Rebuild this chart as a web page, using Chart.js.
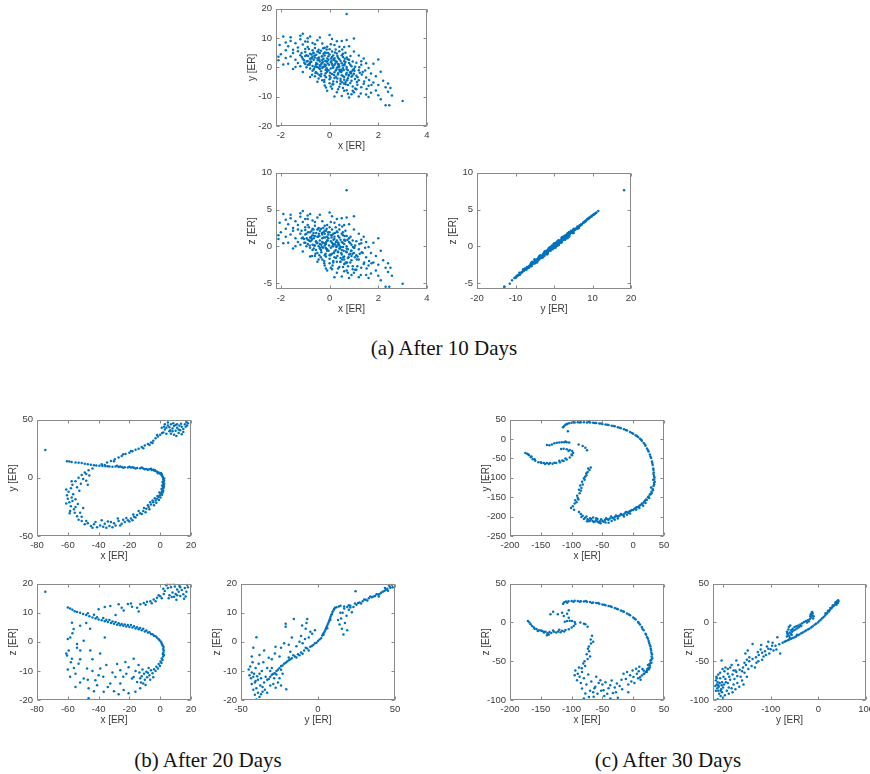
<!DOCTYPE html>
<html>
<head>
<meta charset="utf-8">
<script src="https://cdn.jsdelivr.net/npm/chart.js@4.4.0/dist/chart.umd.min.js"></script>
<style>
  body { margin: 0; width: 870px; height: 774px; overflow: hidden; background: #fff; position: relative; }
  canvas { position: absolute; }
  .caption {
    position: absolute;
    font-family: "Liberation Serif", "Times New Roman", serif;
    font-size: 21px;
    line-height: 24px;
    color: #111;
    white-space: nowrap;
    transform: translateX(-50%);
  }
</style>
</head>
<body>
<div class="caption" style="left:444px; top:336px;">(a) After 10 Days</div>
<div class="caption" style="left:208px; top:748px;">(b) After 20 Days</div>
<div class="caption" style="left:668px; top:748px;">(c) After 30 Days</div>

<script>
// ---- tick values ----
const ticksX10 = [-2, 0, 2, 4];
const ticksY10 = [-20, -10, 0, 10, 20];
const ticksZ10 = [-5, 0, 5, 10];
const ticksX20 = [-80, -60, -40, -20, 0, 20];
const ticksY20 = [-50, 0, 50];
const ticksZ20 = [-20, -10, 0, 10, 20];
const ticksX30 = [-200, -150, -100, -50, 0, 50];
const ticksY30 = [-250, -200, -150, -100, -50, 0, 50];
const ticksYZ30 = [-200, -100, 0, 100];
const ticksZ30 = [-100, -50, 0, 50];

// ---- after 10 days: particle positions [ER] ----
const day10X = [
  0.1,-0.3,0.4,-0.6,0.7,-0.2,0.2,-0.8,0.9,-0.5,
  0.3,-0.1,0.6,-0.9,0.0,0.5,-0.4,0.8,-0.7,0.2,
  -0.2,0.4,-0.6,1.0,-1.0,0.1,-0.3,0.7,-0.5,0.3,
  -0.8,0.6,-0.1,0.9,-0.4,0.2,-0.7,0.5,-0.2,0.0,
  -0.9,0.8,-0.6,0.3,-0.3,0.1,0.6,-0.5,0.4,-0.1,
  0.7,-0.8,0.2,-0.4,0.9,-0.2,0.5,-0.7,0.0,-1.0,
  0.3,-0.6,0.8,-0.3,0.1,1.0,-0.9,0.6,-0.2,0.4,
  -0.5,0.2,-0.8,0.7,-0.1,0.5,-0.4,0.0,0.9,-0.7,
  -1.2,-1.5,-1.1,-1.8,-1.3,-2.0,-1.6,-1.9,-1.1,-1.4,
  -1.7,-2.2,-1.2,-1.5,-1.0,-1.3,-2.05,-1.6,-1.8,-1.1,
  -1.4,-1.2,-1.7,-2.1,-1.5,-1.0,-1.3,-1.9,-1.6,-1.2,
  -1.0,-1.4,-1.1,-1.8,-2.1,-0.8,-0.5,0.0,-0.3,0.2,
  -0.9,0.5,0.7,1.0,-0.1,0.3,-0.6,0.6,-0.4,0.1,
  0.8,-0.7,-0.2,0.4,-0.9,1.2,1.5,1.1,1.8,1.3,
  2.0,1.6,2.2,1.4,1.9,1.2,2.4,1.7,2.5,1.5,
  2.0,1.1,2.3,2.45,3.0,1.6,2.56,1.3,1.8,2.1,
  1.0,1.2,1.4,1.9,2.3,1.1,1.6,1.0,2.1,1.7,
  1.3,2.4,1.5,2.0,1.2,-0.5,-0.2,0.1,0.3,0.5,
  0.8,0.0,0.4,0.7,-0.3,0.9,0.2,0.6,-0.8,0.95,
  0.6,-0.1,0.7,0.15,-0.25,0.35,-0.55,0.55,-0.15,0.05,
  -0.75,0.75,-0.45,0.25,0.45,-0.65,-0.35,0.85,-0.95,0.65,
  -0.05,0.15,-0.85,1.05,-1.05,0.35,-0.15,0.55,-0.45,0.25,
  -0.25,0.95,-0.65,0.05,0.45,-0.35,0.75,-0.05,0.15,-0.75,
  1.15,-1.15,0.65,-0.55,0.35,-0.95,0.85,-0.15,0.05,0.55,
  0.12,-0.32,0.48,-0.18,0.28,-0.62,0.68,-0.08,0.38,-0.42,
  0.58,-0.52,0.18,-0.28,0.78,-0.72,0.08,-0.12,0.42,-0.88,
  0.32,-0.38,0.62,-0.58,0.02,0.88,-0.78,0.22,-0.22,0.52,
  -0.48,0.72,-0.02,0.36,-0.66,0.14,-0.34,0.94,-0.84,0.46,
  -0.14,0.26,-0.56,0.66,-0.26,0.06,1.04,-1.04,0.54,-0.44,
  0.84,-0.64,0.34,-0.04,0.74,-0.94,0.24,-0.34,1.24,-0.74,
  0.16,-0.46,0.56,-0.16,0.96,-0.56,0.36,-0.06,0.66,-0.26,
  1.14,-1.14,0.44,-0.36,0.04,0.76,-0.66,0.26,-0.16,0.86,
  -0.82,0.12,-0.42,0.62,-0.12,0.32,-0.72,1.02,-0.22,0.52,
  1.32,1.42,1.22,1.62,1.12,1.52,1.36,1.72,1.28,1.46,
  0.05,0.35,-0.45,0.75,0.55,0.15,1.05,0.95,-0.15,0.45
];
const day10Y = [
  1.2,2.5,-0.8,3.4,-1.9,0.3,3.1,4.6,-3.2,1.1,
  1.9,-1.5,0.7,2.2,4.4,-2.7,-0.6,1.5,5.8,-3.6,
  5.1,2.8,0.2,-0.5,3.9,-2.3,3.8,3.4,-2.1,-0.1,
  1.6,-4.2,2.0,0.4,4.9,0.8,-1.2,4.1,-2.8,6.2,
  0.8,-2.5,6.6,-4.9,1.5,5.4,2.1,3.0,0.3,-0.9,
  -0.6,2.9,2.4,0.7,-1.4,4.0,-1.2,3.6,-4.1,5.2,
  4.7,-3.0,2.6,-0.2,3.5,-2.2,6.9,-3.3,1.0,5.5,
  5.4,-1.7,-0.4,0.1,3.0,1.4,2.0,-2.9,-4.6,0.5,
  4.1,6.0,7.8,3.2,1.5,4.5,9.0,10.5,11.5,2.6,
  1.2,1.5,9.6,4.9,8.8,6.8,7.6,10.3,5.8,2.9,
  8.2,0.4,7.2,3.6,-0.6,6.3,5.5,1.0,3.7,10.8,
  1.1,0.1,-1.6,8.5,2.4,10.5,9.2,11.0,8.1,7.6,
  8.7,9.0,9.3,9.8,7.0,8.9,7.9,6.9,10.2,9.7,
  7.2,8.3,6.7,7.0,9.9,-1.0,-3.5,1.6,-5.2,-6.8,
  2.7,-0.2,-4.6,3.0,-7.9,-4.4,-5.5,-2.1,-7.0,-9.3,
  -9.5,-7.5,-12.9,-12.9,-11.5,-10.1,-9.6,0.9,1.2,-1.5,
  5.4,4.0,-5.6,-3.0,-6.8,-2.9,-6.3,-8.5,-10.9,-8.7,
  2.1,-8.3,1.4,-6.0,-9.9,-4.9,-6.2,-7.3,-8.5,-9.8,
  -10.3,-5.4,-6.6,-7.8,-4.4,-9.2,-9.9,-5.6,-3.3,-6.5,
  -8.0,-8.0,18.2,0.0,2.9,-2.0,4.3,3.5,-3.4,1.7,
  1.9,-1.0,6.0,6.1,-3.9,2.6,-1.3,0.9,4.1,5.0,
  2.6,4.0,6.3,0.2,2.4,1.1,0.6,-0.3,-0.1,-1.1,
  4.6,2.0,-0.7,-0.4,2.2,5.7,-3.7,3.8,-4.8,3.2,
  -3.4,4.9,1.8,1.5,3.3,0.0,-5.3,5.0,7.9,4.6,
  0.6,3.7,-1.6,2.2,-0.7,4.0,-2.4,1.3,1.0,2.7,
  -0.9,0.1,-2.6,1.8,-2.9,3.0,2.2,-0.3,-1.4,3.9,
  3.9,0.4,2.9,-1.9,-1.8,-2.0,2.0,5.1,-4.3,-5.1,
  2.4,-4.4,0.9,0.5,4.9,-0.1,1.1,-2.8,1.2,-0.8,
  2.1,-3.2,0.9,-5.8,6.5,3.0,-4.0,1.6,0.6,3.4,
  -1.7,-0.5,-2.4,-1.0,2.8,2.0,1.3,-2.3,-1.8,4.4,
  2.7,5.2,-3.0,-2.0,-0.9,-1.6,0.0,4.9,-5.0,0.2,
  -5.9,3.5,-5.6,-3.0,-3.5,-6.0,5.0,2.0,-0.9,3.9,
  0.9,-5.8,-2.6,1.1,6.1,-3.8,-2.5,-1.2,-5.0,6.1,
  -2.4,-4.8,0.0,-4.3,-5.0,-7.4,-1.6,-6.0,-8.9,-1.1,
  -6.5,-7.5,-3.8,-9.0,-7.0,-5.8,-7.2,-8.0,-6.9,-4.6
];
const day10Z = [
  0.5,1.1,-0.3,1.4,-0.8,0.1,1.3,1.9,-1.3,0.5,
  0.8,-0.6,0.3,0.9,1.9,-1.1,-0.3,0.6,2.4,-1.5,
  2.1,1.2,0.1,-0.2,1.6,-1.0,1.6,1.4,-0.9,0.0,
  0.7,-1.8,0.8,0.2,2.1,0.3,-0.5,1.7,-1.2,2.6,
  0.3,-1.1,2.8,-2.1,0.6,2.3,0.9,1.3,0.1,-0.4,
  -0.3,1.2,1.0,0.3,-0.6,1.7,-0.5,1.5,-1.7,2.2,
  2.0,-1.3,1.1,-0.1,1.5,-0.9,2.9,-1.4,0.4,2.3,
  2.3,-0.7,-0.2,0.0,1.3,0.6,0.8,-1.2,-1.9,0.2,
  1.7,2.5,3.3,1.3,0.6,1.9,3.8,4.4,4.8,1.1,
  0.5,0.6,4.0,2.1,3.7,2.9,3.2,4.3,2.4,1.2,
  3.4,0.2,3.0,1.5,-0.3,2.6,2.3,0.4,1.6,4.5,
  0.5,0.0,-0.7,3.6,1.0,4.4,3.9,4.6,3.4,3.2,
  3.7,3.8,3.9,4.1,2.9,3.7,3.3,2.9,4.3,4.1,
  3.0,3.5,2.8,2.9,4.2,-0.4,-1.5,0.7,-2.2,-2.9,
  1.1,-0.1,-1.9,1.3,-3.3,-1.8,-2.3,-0.9,-2.9,-3.9,
  -4.0,-3.2,-5.5,-5.5,-5.1,-4.3,-4.0,0.4,0.5,-0.6,
  2.3,1.7,-2.4,-1.3,-2.9,-1.2,-2.6,-3.6,-4.6,-3.7,
  0.9,-3.5,0.6,-2.5,-4.2,-2.1,-2.6,-3.1,-3.6,-4.1,
  -4.3,-2.3,-2.8,-3.3,-1.8,-3.9,-4.2,-2.4,-1.4,-2.7,
  -3.4,-3.3,7.6,0.0,1.2,-0.8,1.8,1.5,-1.4,0.7,
  0.8,-0.4,2.5,2.6,-1.6,1.1,-0.5,0.4,1.7,2.1,
  1.1,1.7,2.6,0.1,1.0,0.5,0.3,-0.1,0.0,-0.5,
  1.9,0.8,-0.3,-0.2,0.9,2.4,-1.6,1.6,-2.0,1.3,
  -1.4,2.1,0.8,0.6,1.4,0.0,-2.2,2.1,3.3,1.9,
  0.0,1.8,-0.9,1.2,-0.1,1.4,-0.7,0.8,0.2,1.4,
  -0.6,0.4,-0.9,0.5,-1.5,1.0,1.2,-0.4,-0.3,1.9,
  1.9,-0.2,1.4,-1.0,-1.1,-0.6,1.2,1.8,-2.0,-1.8,
  1.3,-2.2,0.1,0.5,1.8,0.3,0.2,-1.0,0.8,-0.1,
  0.6,-1.6,0.7,-2.2,2.5,1.5,-1.5,0.5,0.5,1.7,
  -1.0,0.1,-0.7,-0.6,0.9,1.1,0.2,-0.8,-1.0,2.1,
  0.9,2.4,-1.5,-1.0,-0.1,-0.5,0.3,1.9,-2.3,-0.2,
  -2.7,1.1,-2.1,-1.5,-1.2,-2.7,2.3,0.6,-0.2,1.3,
  0.1,-2.6,-1.2,0.8,2.4,-1.3,-1.3,-0.2,-2.3,2.7,
  -0.8,-2.2,0.3,-2.0,-1.8,-3.0,-0.9,-2.3,-3.9,-0.2,
  -2.9,-3.0,-1.8,-3.6,-2.8,-2.2,-3.2,-3.1,-3.0,-2.1
];

// ---- after 20 days: projected positions [ER] ----
const xyDay20 = [
  [-74.6,23.9],
  [-60.5,14.2],[-59,14.0],[-57.5,13.6],[-55,13.3],[-53,13.0],[-51,12.7],[-49,12.2],[-47,11.6],[-45,11.3],[-43,10.9],
  [-41.5,10.6],[-39.5,10.3],[-37.5,10.1],[-35.5,10.0],[-34,9.9],
  [-33,9.8],[-31,9.6],[-29,9.7],[-27,9.4],[-25,9.3],[-23,9.1],[-21,9.0],[-19,8.8],[-17,8.7],[-15,8.5],
  [-13,8.2],[-11,8.0],[-9,7.7],[-7,7.3],[-5.5,6.8],[-4,6.3],[-3,5.8],[-2,5.2],[-1,4.5],[0,3.6],
  [0.8,2.6],[1.4,1.4],[1.8,0],[2.0,-1.5],[2.1,-3],[2.0,-4.5],[1.9,-6],[1.8,-7.5],[1.7,-9],[1.4,-10.5],
  [1.0,-12],[0.5,-13.5],[-0.2,-15],[-1,-16.5],[-2,-18],[-3,-19.5],[-4.5,-21],[-6,-23],[-7.5,-25],[-9,-26.5],
  [-11,-28.5],[-13,-30.5],[-15,-32],[-17,-33.5],[-19,-35],[-21,-36.5],[-23,-38],[-25,-39.5],
  [-28,10.3],[-24,8.6],[-20,9.5],[-16,8.0],[-12,8.9],[-8,7.0],[-6,7.9],[-3.5,6.8],[-1.5,4.0],[0.5,4.1],
  [1.2,2.0],[2.6,-0.5],[2.5,-2.5],[1.5,-3.5],[2.6,-5],[1.3,-6.5],[2.3,-8.2],[0.9,-9.5],[2.0,-11],[-0.5,-12.5],
  [1.2,-14.5],[-1.8,-15.5],[-0.8,-19],[-3.5,-17.5],[-5,-19.5],[-4,-23.5],[-8,-23.5],[-7,-27],[-10.5,-26],[-12,-31],
  [-14,-28.5],[-16,-34],[-17.5,-31.5],[-20,-37.5],[-22,-34.5],[-24,-36],[-26,-41],[-27,-37],[1.6,-12.5],[-2.5,-21.5],
  [-9.5,-29.5],[2.4,-7],[0.2,-17],[-6.5,-21],[-18,-36.5],[-26,9.8],[-18,9.2],[-10,7.4],[-4.5,7.0],[1.0,3.2],
  [-29,-41],[-31,-42.5],[-33,-41.5],[-35,-43],[-37,-42],[-39,-41],[-41,-42.5],[-43,-40],[-45,-41.5],[-47,-39],
  [-49,-40],[-51,-37],[-53,-36],[-30,-39],[-36,-39.5],[-42,-38],[-48,-37],[-38,-36.5],[-44,-42.8],[-32,-38],
  [-27.5,-35],[-34,-37.5],
  [-54,-33],[-55.5,-30],[-56,-27],[-58,-24.5],[-59,-21],[-60,-18],[-60.5,-15],[-59.5,-12],[-58,-9],[-57,-6],
  [-55,-3],[-53,0],[-51,2.5],[-49,4.5],[-46.5,6.5],[-44,8],[-57,-20],[-55,-25],[-52,-30],[-61,-22],
  [-56.5,-14],[-54,-8],[-51.5,-5],[-50,-1],[-52.5,-11],[-57.5,-17],[-53.5,-22.5],[-58.5,-28.5],[-55,-18.5],[-50,-26],
  [-51,-33.5],[-61,-10],[-57.5,-3],[-48,-2.5],[-46,2],[-58.8,-30.5],[-47,-6],[-48,3.3],
  [-38,11.8],[-34.5,13.2],[-32,14.5],[-29.5,16],[-27,17.5],[-25,18.8],[-22.5,20.5],[-20,21.5],[-18,22.8],[-16,24.2],
  [-14,25],[-12,26.5],[-10,27.8],[-8,29],[-6,30.5],[-4.5,32],[-3,34],[-1.5,35.5],[0,37],[1.2,38.5],
  [-24,20.2],[-11,25.5],[-5,30],[-36,11.0],[-30,14.2],[-19,23],[-2,36.8],[-7,28.2],
  [2,39],[3,41.5],[4,43],[5,45],[6,40],[7,38],[8,42.5],[9,44.5],[10,40.5],[11,43],
  [12,38.5],[13,41],[14,44],[15,42],[16,46],[17,48],[18,47],[3,46],[5,47.5],[7,46],
  [9,37],[10.5,36],[12.5,44.8],[15,39.5],[16.5,44],[1,43],[6,43.5],[8,40],[11,46],[13.5,46.5],
  [4,38],[14,37.5],[17.5,45],[2.5,44],[8.5,47],[12,41.5],[6.5,41],[10,45.5]
];

const xzDay20 = [
  [-74.6,17.2],
  [-60,11.8],[-58.5,11.5],[-57,11.0],[-55.5,10.5],[-54,10.3],[-52,10.0],[-50,9.6],[-48,9.2],[-46,8.8],[-44,8.4],
  [-42,8.0],[-40,7.7],[-38,7.4],[-36,7.1],[-34,6.8],[-32,6.5],[-30,6.2],[-28,5.9],[-26,5.7],[-24,5.5],
  [-22,5.3],[-20,5.1],[-18,4.9],[-16,4.6],[-14,4.3],[-12,4.0],[-10,3.6],[-8,3.2],[-6,2.7],[-4,2.1],
  [-2,1.4],[-0.5,0.6],[0.8,-0.3],[1.6,-1.3],[2.0,-2.5],[2.1,-3.7],[1.9,-5],[1.5,-6.2],[0.8,-7.3],[-0.2,-8.3],
  [-1.5,-9.2],[-3,-10],[-5,-10.8],[-7,-11.5],[-8.5,-12.2],[-10,-13],[-11,-14.3],
  [-41,8.5],[-35,7.6],[-29,6.8],[-25,6.1],[-21,5.8],[-17,5.4],[-13,4.8],[-9,3.9],[-7,3.3],[-5,2.6],
  [-3,1.9],[-1,0.9],[0.3,0.1],[1.2,-0.8],[2.2,-1.8],[2.3,-3],[1.7,-4.2],[2.4,-4.5],[1.0,-5.7],[0.2,-6.8],
  [-1,-7.6],[-2.5,-8.6],[-4,-9.4],[-6,-9.8],[-7.5,-9.0],[-9,-10.3],[-10.5,-11],[-8,-10.6],[-12,-11.8],[-13,-12.5],
  [-11.5,-9.5],[-12.5,-14],[-9.5,-14.8],[-6.5,-13],[-4.5,-12.2],[-13.5,-10.5],[-43,9.3],[-37,8.2],[-31,7.0],[-27,6.4],
  [-23,6.0],[-19,5.8],[-15,5.0],[-11,4.5],[-33,7.5],[-47,9.8],
  [-32.4,12.3],[-27,12.9],[-23.7,10.8],[-21,13],[-18.3,12.1],[-15,11.7],[-12.9,12.9],[-10.7,13.4],[-8.6,13.8],[-6.4,14.0],
  [-4.2,14.6],[-2.1,15.2],[0,15.7],[2.3,16.5],[-9.5,12.8],[-5.5,13.3],[-3,14.0],[-1,16.0],[1,15.0],[-14,10.4],
  [-25,11.7],[-29,9.2],[-19,13.2],[-36,12.0],[-40,11.2],
  [3,17.5],[4,19.5],[5,18.5],[6,16],[7,18.8],[8,17],[9,15.5],[10,16.5],[11,18],[12,17.2],
  [13,15.8],[14,17.8],[15,16.4],[16,18.5],[17,17.2],[18,18.8],[4.5,20],[6.5,19.8],[9.5,19],[12.5,19.2],
  [15.5,14.8],[10.5,14.5],[8.5,20],[5.5,15],[13,18.8],[7.5,15.4],[16.5,15.6],[2,18.3],[11,16],[17.5,19.6],
  [-57.3,6.6],[-56.2,4.4],[-58.4,1.5],[-59.4,-3],[-60.5,-4.7],[-57.3,-5.8],[-54,-0.7],[-51.9,-3],[-49.7,0.4],[-45.4,-3],
  [-47.5,-9.2],[-49.7,-12.6],[-46.5,-16],[-46.5,-19.4],[-42.1,-13.2],[-40,-11.5],[-38.9,-9.2],[-41,-14.9],[-36.7,-17.2],[-33.5,-20],
  [-32.4,-14.3],[-29.1,-12.1],[-28,-7.6],[-25.9,-9.8],[-22.6,-6.9],[-20.5,-8.7],[-18.3,-12.6],[-17.2,-5.8],[-23.7,-16.6],[-20.5,-17.7],
  [-16.1,-17.2],[-17.2,-12.1],[-15,-13.8],[-25.9,-14.3],
  [-55,-11],[-53,-7.5],[-56,-9],[-58,-7],[-52,-14],[-55,-15.5],[-58.5,-12],[-54,-2],[-60,1],[-57,3],
  [-52,5.5],[-48,6.5],[-44,-6],[-37,-12],[-35,-8],[-30,-17],[-27,-18],[-31,-10.5],[-24,-12],[-14,-8],
  [-13,-16],[-16,-10],[-22,-11],[-34,-15.5],[-44,-10],[-39,-4],[-47,-13],[-43,-17],[-36,1.5],[-52,-6],
  [-61,-4],[-60,-9.5],[-45.5,4.5]
];

const yzDay20 = [
  [14.6,12.4],[17,12.2],[19,12.0],[21,11.8],[23,12.0],[25,12.8],[27,13.5],[29,14.0],[31,14.5],[33,15.0],
  [35,15.3],[37,15.8],[39,16.3],[41,16.9],[43,17.5],[45,18.3],[46.5,19.0],[48,19.6],[28,13.2],[32,14.2],
  [36,15.6],[40,16.5],[44,17.8],[47,18.6],[42,17.2],[38,16.4],[34,15.6],[30,14.6],[26,13.4],[46,19.6],
  [48.5,18.8],[24,13.2],[20,12.6],[45.5,17.6],[39.5,15.6],[43.5,18.5],
  [-5,-1.7],[-3,-1.1],[-1,-0.3],[1,0.8],[2.7,2.2],[4,3.3],[5,4.4],[6,5.6],[7,6.8],[7.8,8],
  [8.6,9.2],[9.4,10.3],[10.5,11.3],[12,11.9],[13.5,12.2],[3.3,2.8],[5.5,5],[6.5,6.2],[8.2,8.6],[9,9.6],
  [0,0.3],[-2,-0.5],[2,1.2],[4.6,3.8],[7.4,7.4],[11,11.7],[10,10.8],[-4,-1.4],[3.6,2.4],[6,4.7],[8,7.5],
  [-7,-2.3],[-9,-3],[-11,-3.7],[-13,-4.3],[-15,-5],[-17,-5.6],[-19,-6.3],[-21,-7.2],[-23,-8.1],[-25,-9],
  [-27,-10],[-29,-11],[-31,-12],[-33,-13],[-8,-2.0],[-12,-4.6],[-16,-4.6],[-20,-6.8],[-24,-8.3],[-28,-10.8],
  [-10,-4.1],[-14,-5.4],[-18,-6.0],[-22,-7.5],[-26,-9.6],[-30,-11.3],[-6,-3],[-19,-5.4],[-24,-9.6],[-32,-12.8],
  [-44,-8.5],[-43,-10.5],[-42,-12],[-41,-14],[-40,-16],[-39,-17.5],[-38,-19],[-41.5,-11],[-43.5,-12.5],[-40.5,-9],
  [-39,-13],[-37.5,-15],[-36,-17.2],[-35,-14],[-38,-11],[-36.5,-10],[-34,-12],[-33,-9],[-42,-16.5],[-40,-19.8],
  [-37,-18],[-44.5,-11.5],[-42.5,-7],[-38.5,-7.5],[-35.5,-7],[-34.5,-16.5],[-31,-15],[-33,-17.5],[-43,-14.5],[-39.5,-11.8],
  [-41,-18.2],[-37,-12.5],[-45,-9.5],[-40.5,-13.5],[-36,-15.5],
  [-30,-9],[-28.5,-12.5],[-27,-11.2],[-26,-14],[-29,-14.5],[-31,-10],[-25,-12.5],[-23,-11],[-27.5,-15.8],[-24,-15],
  [-40,1.6],[-42,-2],[-43,-5],[-38,-4.5],[-35,-3],[-32,-5.5],[-30,-6],[-27.6,-1.7],[-24,-2],[-22,-0.5],
  [-28,-4],[-25,-5],[-21,6.2],[-21,5.2],[-15.7,7.9],[-17,1.5],[-19,-1],[-14,-1.5],[-12,0],[-10,-0.5],
  [-10.3,5.6],[-8,4.5],[-7,7.9],[-7.5,6.5],[-5,3.5],[-3.8,2.8],[-2,4],[-8.5,1],[-18,-3.4],[-11,2],
  [-6,1.5],[-20.6,-16.3],
  [14,6],[15,8],[16,10],[17,11.5],[15.5,4.5],[17.5,6.5],[18.5,9],[20,11],[21,12.4],[13,7.5],
  [16.5,2.5],[19,4],[22,10.2],[14.5,10],[24.4,17.4]
];

// ---- after 30 days: projected positions [ER] ----
const xyDay30 = [
  [-114,30.5],[-112,34],[-110,37],[-107,39.5],[-104,41],[-100,42],[-95,42.8],[-90,43.2],[-85,43.4],[-80,43.3],
  [-75,43],[-70,42.6],[-65,42],[-60,41.3],[-55,40.3],[-50,39.2],[-45,37.8],[-40,36.4],[-35,34.7],[-30,32.8],
  [-25,30.5],[-20,28],[-15,25.2],[-10,22],[-5,18.3],[0,14],[4,10],[8,5.4],[11,1],[14,-4],
  [17,-10],[20,-17],[22.5,-24],[25,-32],[27,-40],[29,-49],[30.5,-58],[31.5,-67],[32.5,-76],[33.2,-86],
  [33.8,-95],[34,-104],[33.8,-113],[33,-121],[31.5,-129],[29.5,-136],[27,-143],[24,-150],[21,-156],[17.5,-162],
  [14,-167],[10,-172],[6,-176],[2,-180],[-2,-183],[-6,-186],[-10,-189],[-14,-192],[-18,-195],[-22,-197],
  [-26,-199],[-30,-201],[-34,-203],[-38,-205],[-42,-207],[-46,-209],[-50,-211],[-54,-212],[-58,-212.5],[-62,-212.5],
  [-66,-211.5],[-70,-210],[-74,-207],[-78,-203],[-82,-198],[-85,-193],[-88,-188],
  [-108,38],[-97,43.5],[-87,42.5],[-72,43.8],[-62,41.5],[-52,40],[-42,37],[-32,33.5],[-22,29.5],[-12,23.5],
  [-2,16],[6,8],[13,-2],[19,-14],[24,-29],[28,-45],[31,-62],[33,-80],[34.5,-99],[34,-117],
  [32,-132],[28,-142],[25,-148],[22,-157],[19,-159],[15,-166],[12,-170],[8,-175],[4,-177],[0,-183],
  [-4,-185],[-8,-190],[-12,-188],[-16,-196],[-20,-193],[-24,-200],[-28,-197],[-32,-205],[-36,-200],[-40,-208],
  [-44,-204],[-48,-213],[-52,-207],[-56,-215],[-60,-209],[-64,-214],[-68,-206],[-72,-212],[-76,-200],[-80,-206],
  [-84,-201],[-70,-204],[-60,-204],[30,-140],[26,-152],[33,-90],[32.5,-105],[35,-110],[29,-125],[20,-165],
  [10,-178],[-5,-192],[-45,-215],[-58,-206],[-35,-211],[-25,-205],[-15,-200],[-65,-202],[-75,-212],[-53,-217],
  [-40,-216],[-30,-208],[-10,-195],[5,-182],[16,-172],
  [-98,-173],[-95,-166],[-94,-158],[-90,-152],[-91,-146],[-87,-140],[-88,-131],[-84,-126],[-82,-117],[-83,-110],
  [-79,-105],[-78,-97],[-76,-93],[-74,-85],[-71,-80],[-69,-73],[-73,-76],[-80,-101],[-86,-120],[-92,-163],
  [-101,-178],[-96,-182],[-89,-156],[-76,-88],[-85,-133],
  [-175,-36],[-172,-38],[-169,-42],[-166,-47],[-163,-52],[-159,-56],[-154,-60],[-149,-62],[-143,-64],[-137,-64.5],
  [-131,-63.5],[-125,-62],[-119,-59.5],[-113,-56.5],[-108,-52.5],[-103,-47.5],[-99.5,-42],[-97.5,-36],[-99,-31],[-103,-28],
  [-108,-26],[-113,-25],[-117,-25.5],[-160,-52],[-150,-60],[-140,-62],[-128,-61],[-120,-56],[-110,-50],[-100,-40],
  [-105,-31],[-170,-40],[-145,-62],[-135,-62],[-115,-55],[-165,-45],
  [-136,-16],[-132,-14],[-128,-11],[-124,-9.5],[-120,-8.5],[-116,-8],[-112,-8],[-108,-8],[-104,-9],[-140,-15],[-110,-6],
  [-106,20],[-88.6,-13.7],[-82,-18],[-77.7,-22.2],[-75,-29]
];

const xzDay30 = [
  [-113.8,24.1],[-112,26],[-109,27],[-105,27.5],[-100,27.8],[-95,27.9],[-90,27.8],[-85,27.5],[-80,27.2],[-75,26.8],
  [-70,26.3],[-65,25.7],[-60,25],[-55,24.2],[-50,23.3],[-45,22.3],[-40,21.2],[-35,20],[-30,18.6],[-25,17.1],
  [-20,15.5],[-15,13.7],[-10,11.6],[-5,9.2],[0,6.5],[4,3.8],[8,0.5],[11,-2.5],[14,-6],[17,-10],
  [20,-14.5],[22.5,-19],[25,-24],[27,-29],[28.5,-34],[29.5,-39],[30,-44],[29.5,-48],[28.5,-52],[27,-55.5],
  [25,-58.5],[22.5,-61.5],[20,-64],[17,-66.5],[14,-68.5],[11,-70.5],
  [-107,25.5],[-97,26.8],[-87,26.6],[-77,27.6],[-67,25],[-57,25],[-47,22.9],[-37,21],[-27,17.8],[-17,14.6],
  [-7,10.2],[2,5.2],[9,-0.8],[15,-8],[21,-16],[24,-21],[26,-26.5],[28,-31],[29,-36],[30.5,-41],
  [31,-46],[29.5,-52],[27,-58],[23,-60],[24,-55],[26.5,-53.5],[28,-49],[25.5,-60.5],[22,-64],[18,-66],
  [-170.9,2],[-168.5,0],[-166.6,-2.3],[-164,-4.5],[-161.2,-6.5],[-157,-8.5],[-153.1,-9.9],[-148,-11],[-142.3,-12],[-136,-12.3],
  [-128.9,-12],[-122,-11.5],[-115.4,-10.8],[-110,-9.8],[-104.6,-8.6],[-100,-6.5],[-96.6,-4.4],[-94,-2],[-95,0.5],[-99.2,2],
  [-103,2.3],[-107.3,2],[-111,1],[-150,-10.5],[-145,-13],[-139,-14],[-133,-13.5],[-125,-13],[-118,-12.5],[-137,-15.5],
  [-140,-16.5],[-130,-10.5],[-160,-8],[-155,-11],[-145,-12],[-120,-9.5],[-112,-11.5],
  [-134.3,10.5],[-130,13.9],[-122.4,10.5],[-115.4,12.6],[-112.7,8.4],[-107.3,11.3],[-104.6,6.2],[-104.6,15.6],
  [-85.8,-0.1],[-80,-1.5],[-77.7,-2.3],[-74,-5.5],
  [-66.9,-17.1],[-69,-22],[-68.5,-27],[-72,-31],[-71.5,-37],[-75.5,-41],[-74,-47],[-79,-50],[-78,-56],[-83.5,-59],
  [-65,-25],[-73.5,-34],[-70,-44],[-81,-53],
  [-93.9,-61.8],[-91.2,-74.5],[-83.1,-85.1],[-77.7,-91.5],[-64.2,-95.8],[-61.5,-83],[-53.4,-74.5],[-48.1,-87.3],[-37.3,-80.9],[-33,-91],
  [-26.5,-78.8],[-19,-74],[-15.7,-66],[-8,-80],[0.4,-70.3],[4.7,-59.6],[8,-72],[-90,-66],[-87,-70],[-85,-78],
  [-80,-72],[-76,-80],[-73,-67],[-70,-88],[-68,-76],[-65,-90],[-58,-92],[-56,-78],[-52,-88],[-45,-77],
  [-42,-92],[-40,-85],[-35,-75],[-30,-84],[-28,-90],[-22,-82],[-18,-86],[-12,-73],[-10,-64],[-5,-68],
  [-3,-76],[-1,-62],[2,-78],[6,-66],[9,-63],[12,-74],[15,-60],[-88,-58],[-83,-64],[-95,-68],
  [-60,-70],[-72,-96],[-80,-98],[-47,-95],[-37,-98],[-25,-97],[-63,-85],[-50,-80],[10,-57],[17,-62],[-8,-90]
];

const yzDay30 = [
  [-75,-26],[-68,-24],[-61,-22],[-54,-20],[-47,-18],[-40,-15.5],[-33,-13],[-26,-10.5],[-19,-8],[-12,-5],
  [-5,-1.5],[2,2],[8,5.5],[14,9],[19,12.5],[24,16],[29,19.5],[33,22],[37,24.5],[40,26],
  [42,27],[41,25],[38,23],[35,23.5],[31,21.5],[27,18],[22,14],[17,11],[11,7],[5,3.5],
  [-1,0],[-8,-3],[-15,-6.5],[-22,-9],[-29,-11.5],[-36,-14],[-43,-16.5],[-50,-19],[-57,-21],[-64,-23],
  [-71,-25],[36,26],[39,27.5],[41.5,28.5],[30,22],[25,18.5],[20,15],[15,12],[-60,-20],[-45,-16],
  [-66,-12],[-63,-9],[-60,-13],[-57,-10],[-54,-8],[-50,-6],[-46,-5],[-42,-4],[-38,-2.5],[-34,-1],
  [-30,0.5],[-26,2],[-22,3],[-18,4.5],[-15,6.5],[-13,9],[-12,11.5],[-14,12.5],[-16,10.5],[-17,8],
  [-64,-15.5],[-61,-17.5],[-58,-14.5],[-55,-12],[-52,-10.5],[-48,-9],[-44,-7.5],[-40,-6],[-36,-4.5],[-66,-18],
  [-62,-6],[-59,-4],[-56,-16],[-65,-14],[-20,1.5],[-24,0],[-10,8],[-11,5],[-13,13.5],
  [-82,-28],[-90,-30],[-97,-30],[-105,-34],[-112,-37],[-118,-39],[-125,-42],[-131,-45],[-138,-47],[-145,-50],
  [-152,-55],[-158,-58],[-165,-61],[-172,-64],[-180,-67],[-187,-70],[-195,-73],[-202,-77],[-210,-81],[-86,-19],
  [-96,-26],[-100,-34.5],[-108,-31],[-115,-44],[-121,-35],[-130,-52],[-138,-27.8],[-144.8,-44.8],[-150,-48],[-155,-52],
  [-160,-63],[-168,-55],[-172,-49],[-178,-62],[-185,-58],[-190,-66],[-197,-63],[-203,-49],[-206,-72],[-198,-80],
  [-190,-78],[-185,-74],[-176,-73],[-170,-69],[-163,-70],[-155,-65],[-147,-60],[-140,-56],[-133,-58],[-126,-50],
  [-118,-48],[-110,-42],[-103,-40],[-94,-36],
  [-215,-75],[-213,-80],[-212,-85],[-210,-88],[-208,-92],[-205,-95],[-200,-97],[-214,-70],[-211,-77],[-209,-83],
  [-207,-78],[-204,-86],[-202,-90],[-196,-94],[-216,-82],[-213,-72],[-206,-65],[-200,-84],[-192,-88],[-188,-84],
  [-194,-77],[-199,-70],[-210,-67],[-215,-88],[-203,-81],[-188,-92],[-182,-85],[-178,-80],[-180,-90],[-174,-86],
  [-170,-78],[-166,-83],[-160,-75],[-150,-70],[-157,-80],[-211,-99],[-205,-88],[-201,-60],[-195,-58],
  [-120,-29],[-153,-40],[-174,-62],[-182,-55],[-190,-60],[-148,-36],[-127,-38],[-105,-25],[-88,-35],[-80,-40]
];

// ---- layout constants ----
const MARKER = "#0072BD";
const FRAME = "#8a8a8a";
const TEXT = "#3a3a3a";
const AXIS_W = 30;   // room left of the box for tick labels + title
const AXIS_H = 26;   // room under the box
const PAD_T = 8;
const PAD_R = 10;

// MATLAB-like box: full frame with inward tick marks on all four sides
const boxPlugin = {
  id: "box",
  afterDraw(chart) {
    const { ctx, chartArea: a, scales } = chart;
    const l = Math.round(a.left) + 0.5, r = Math.round(a.right) - 0.5;
    const t = Math.round(a.top) + 0.5, b = Math.round(a.bottom) - 0.5;
    ctx.save();
    ctx.strokeStyle = FRAME;
    ctx.lineWidth = 1;
    ctx.strokeRect(l, t, r - l, b - t);
    ctx.beginPath();
    scales.x.ticks.forEach((tk) => {
      const px = Math.round(scales.x.getPixelForValue(tk.value)) + 0.5;
      ctx.moveTo(px, b); ctx.lineTo(px, b - 3);
      ctx.moveTo(px, t); ctx.lineTo(px, t + 3);
    });
    scales.y.ticks.forEach((tk) => {
      const py = Math.round(scales.y.getPixelForValue(tk.value)) + 0.5;
      ctx.moveTo(l, py); ctx.lineTo(l + 3, py);
      ctx.moveTo(r, py); ctx.lineTo(r - 3, py);
    });
    ctx.stroke();
    ctx.restore();
  }
};

function axis(min, max, tickValues, title, horizontal) {
  return {
    type: "linear",
    min: min,
    max: max,
    afterBuildTicks: (s) => { s.ticks = tickValues.map((v) => ({ value: v })); },
    afterFit: (s) => {
      if (horizontal) s.height = AXIS_H;
      else s.width = AXIS_W;
    },
    grid: { display: false, drawTicks: false },
    border: { display: false },
    ticks: {
      color: TEXT,
      font: { family: "'Liberation Sans', Arial, sans-serif", size: 9.5 },
      padding: 4,
      autoSkip: false,
      maxRotation: 0
    },
    title: {
      display: true,
      text: title,
      color: TEXT,
      font: { family: "'Liberation Sans', Arial, sans-serif", size: 10 },
      padding: 0
    }
  };
}

function makePanel(p) {
  const cw = AXIS_W + p.w + PAD_R;
  const ch = PAD_T + p.h + AXIS_H;
  const canvas = document.createElement("canvas");
  canvas.width = cw;
  canvas.height = ch;
  canvas.style.left = (p.left - AXIS_W) + "px";
  canvas.style.top = (p.top - PAD_T) + "px";
  canvas.style.width = cw + "px";
  canvas.style.height = ch + "px";
  document.body.appendChild(canvas);

  new Chart(canvas.getContext("2d"), {
    type: "scatter",
    data: {
      datasets: [{
        data: p.points,
        backgroundColor: MARKER,
        borderWidth: 0,
        pointRadius: 1.25,
        pointHoverRadius: 1.25
      }]
    },
    options: {
      responsive: false,
      animation: false,
      devicePixelRatio: 1,
      layout: { padding: { top: PAD_T, right: PAD_R, left: 0, bottom: 0 } },
      plugins: { legend: { display: false }, tooltip: { enabled: false } },
      scales: {
        x: axis(p.xRange[0], p.xRange[1], p.xTicks, p.xTitle, true),
        y: axis(p.yRange[0], p.yRange[1], p.yTicks, p.yTitle, false)
      }
    },
    plugins: [boxPlugin]
  });
}

const pairs = (a, b) => a.map((v, i) => ({ x: v, y: b[i] }));
const fromList = (list) => list.map((d) => ({ x: d[0], y: d[1] }));

// (a) after 10 days
makePanel({ left: 276, top: 7, w: 151, h: 119, points: pairs(day10X, day10Y),
  xRange: [-2.2, 4], yRange: [-20, 20], xTicks: ticksX10, yTicks: ticksY10, xTitle: "x [ER]", yTitle: "y [ER]" });
makePanel({ left: 276, top: 171, w: 151, h: 118, points: pairs(day10X, day10Z),
  xRange: [-2.2, 4], yRange: [-5.8, 10], xTicks: ticksX10, yTicks: ticksZ10, xTitle: "x [ER]", yTitle: "z [ER]" });
makePanel({ left: 477, top: 171, w: 154, h: 118, points: pairs(day10Y, day10Z),
  xRange: [-20, 20], yRange: [-5.8, 10], xTicks: ticksY10, yTicks: ticksZ10, xTitle: "y [ER]", yTitle: "z [ER]" });

// (b) after 20 days
makePanel({ left: 37, top: 418, w: 154, h: 118, points: fromList(xyDay20),
  xRange: [-80, 20], yRange: [-50, 50], xTicks: ticksX20, yTicks: ticksY20, xTitle: "x [ER]", yTitle: "y [ER]" });
makePanel({ left: 37, top: 582, w: 154, h: 118, points: fromList(xzDay20),
  xRange: [-80, 20], yRange: [-20, 20], xTicks: ticksX20, yTicks: ticksZ20, xTitle: "x [ER]", yTitle: "z [ER]" });
makePanel({ left: 241, top: 582, w: 154, h: 118, points: fromList(yzDay20),
  xRange: [-50, 50], yRange: [-20, 20], xTicks: ticksY20, yTicks: ticksZ20, xTitle: "y [ER]", yTitle: "z [ER]" });

// (c) after 30 days
makePanel({ left: 510, top: 418, w: 154, h: 118, points: fromList(xyDay30),
  xRange: [-200, 50], yRange: [-250, 50], xTicks: ticksX30, yTicks: ticksY30, xTitle: "x [ER]", yTitle: "y [ER]" });
makePanel({ left: 510, top: 582, w: 154, h: 118, points: fromList(xzDay30),
  xRange: [-200, 50], yRange: [-100, 50], xTicks: ticksX30, yTicks: ticksZ30, xTitle: "x [ER]", yTitle: "z [ER]" });
makePanel({ left: 713, top: 582, w: 155, h: 118, points: fromList(yzDay30),
  xRange: [-221, 100], yRange: [-100, 50], xTicks: ticksYZ30, yTicks: ticksZ30, xTitle: "y [ER]", yTitle: "z [ER]" });
</script>
</body>
</html>
